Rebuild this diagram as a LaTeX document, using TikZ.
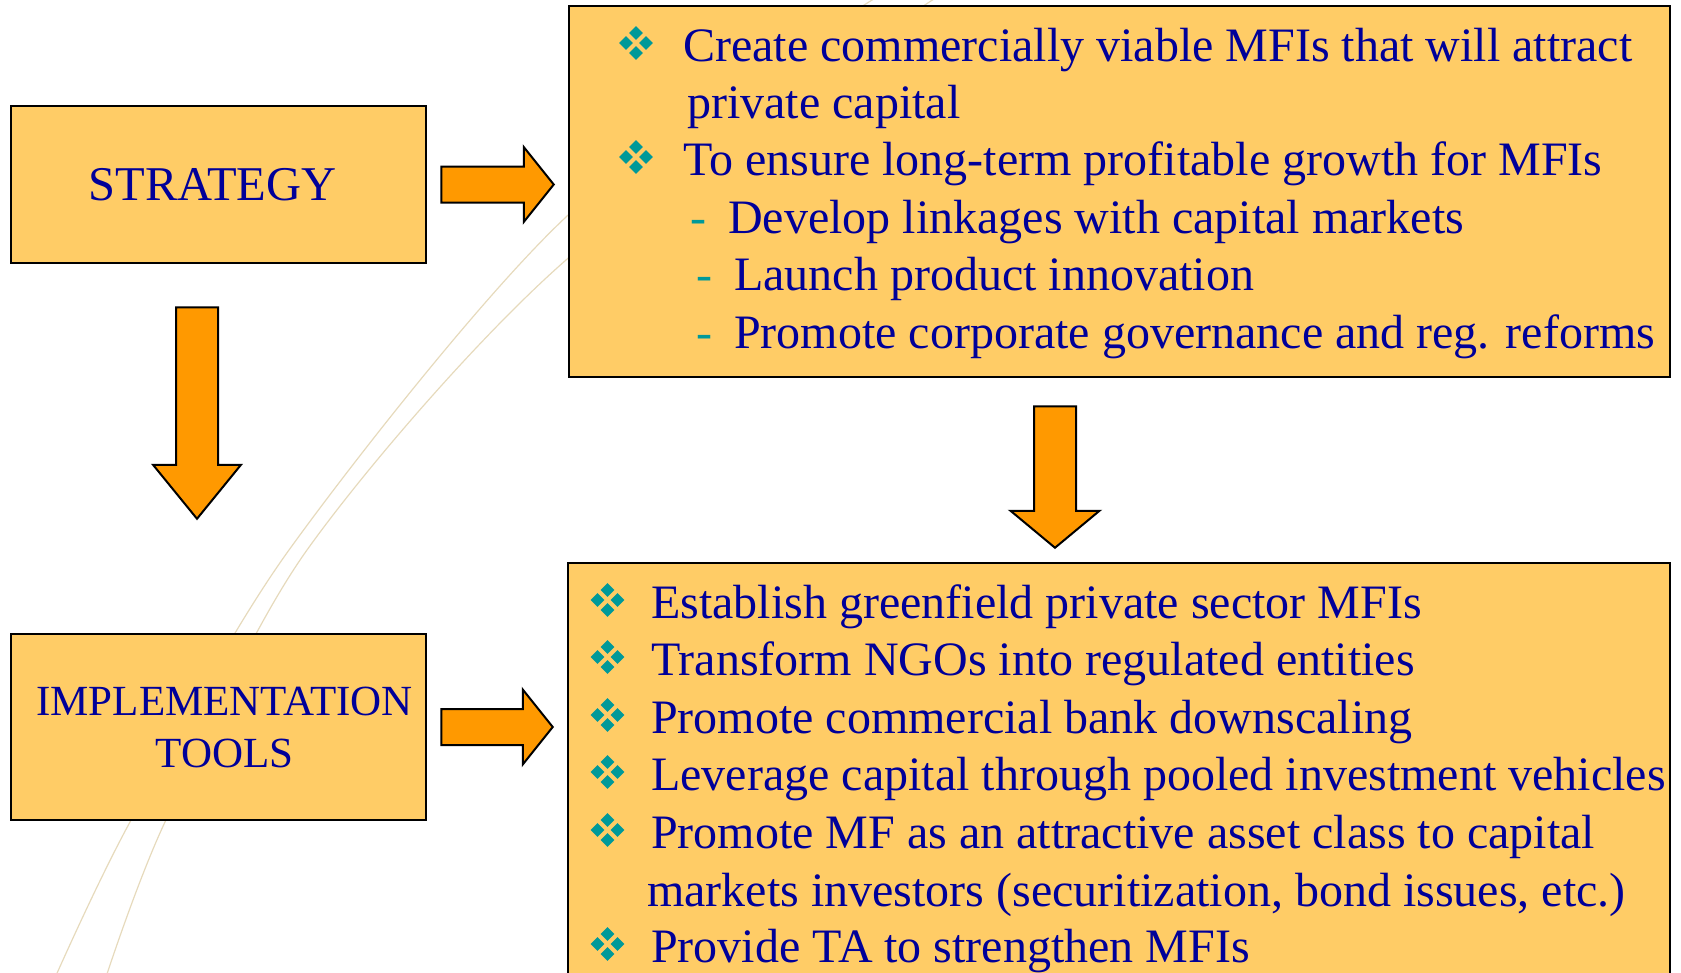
\documentclass[tikz,border=0pt]{standalone}
\usepackage{fontspec}
\setmainfont{Liberation Serif}
\usetikzlibrary{calc}
\definecolor{boxfill}{RGB}{255,204,102}
\definecolor{arrfill}{RGB}{255,153,0}
\definecolor{navy}{RGB}{0,0,153}
\definecolor{bulteal}{RGB}{0,153,153}
\definecolor{curvecol}{RGB}{230,218,188}
\tikzset{
  box/.style={draw=black, line width=2.5pt, fill=boxfill, inner sep=0pt, text=navy},
  blk/.style={draw=black, line width=2pt, fill=arrfill, line join=miter},
  txt/.style={anchor=base west, inner sep=0pt, text=navy, font=\fontsize{48}{58}\selectfont},
  dashtxt/.style={anchor=base west, inner sep=0pt, text=bulteal, font=\fontsize{48}{58}\selectfont},
  bgcurve/.style={draw=curvecol, line width=1.2pt},
}
\newcommand\mybullet[1]{%
  \foreach \dx/\dy in {0/10,0/-10,10/0,-10/0}{%
    \fill[bulteal] ($(#1)+(\dx,\dy)$) +(0,-6.8) -- +(6.8,0) -- +(0,6.8) -- +(-6.8,0) -- cycle;}}
\newcommand\harrow[2]{%
  \filldraw[blk] let \p1=(#1), \p2=(#2) in
   (\x1,\y1+18pt) -- (\x2-30pt,\y1+18pt) -- (\x2-30pt,\y1+37.5pt) -- (\x2,\y2)
   -- (\x2-30pt,\y1-37.5pt) -- (\x2-30pt,\y1-18pt) -- (\x1,\y1-18pt) -- cycle;}
\newcommand\varrow[4]{%
  \filldraw[blk] let \p1=(#1), \p2=(#2) in
   (\x1-21pt,\y1) -- (\x1+21pt,\y1) -- (\x1+21pt,\y2+#4) -- (\x1+#3,\y2+#4) -- (\x2,\y2)
   -- (\x1-#3,\y2+#4) -- (\x1-21pt,\y2+#4) -- cycle;}
\begin{document}
\begin{tikzpicture}[x=1pt,y=-1pt]
\useasboundingbox (0,0) rectangle (1681,972);
\clip (0,0) rectangle (1681,972);
% faint background curves
\draw[bgcurve] plot[smooth] coordinates {(880,-5) (566,217) (289,550) (130,822) (54,980)};
\draw[bgcurve] plot[smooth] coordinates {(940,-5) (566,260) (307,550) (165,822) (105,980)};
% boxes
\node[box, minimum width=415pt, minimum height=157pt, font=\fontsize{48.5}{56}\selectfont]
  (strategy) at (218.5,184.5) {\hspace*{-12pt}\raisebox{-3pt}{STRATEGY}};
\node[box, minimum width=415pt, minimum height=186pt, align=center, font=\fontsize{43}{52}\selectfont]
  (impl) at (218.5,727) {\hspace*{12pt}IMPLEMENTATION\\\hspace*{12pt}TOOLS};
\node[box, minimum width=1101pt, minimum height=371pt] (topbox) at (1119.5,191.5) {};
\node[box, minimum width=1102pt, minimum height=447pt] (botbox) at (1119,786.5) {};
% arrows
\coordinate (a1s) at ($(strategy.east)+(14,0)$);
\coordinate (a1t) at ($(topbox.west |- a1s)+(-14,0)$);
\coordinate (a2s) at ($(impl.east)+(14,0)$);
\coordinate (a2t) at ($(botbox.west |- a2s)+(-14,0)$);
\coordinate (a3s) at ($(strategy.south)+(-21.5,43)$);
\coordinate (a3t) at ($(impl.north)+(-21.5,-114)$);
\coordinate (a4s) at ($(topbox.south)+(-64.5,28)$);
\coordinate (a4t) at ($(a4s |- botbox.north)+(0,-14)$);
\harrow{a1s}{a1t}
\harrow{a2s}{a2t}
\varrow{a3s}{a3t}{44pt}{54pt}
\varrow{a4s}{a4t}{44.5pt}{37pt}
% top box text
\node[txt] (t1) at (683,61) {Create commercially viable MFIs that will attract};
\node[txt] (t2) at (687,118) {private capital};
\node[txt] (t3) at (683,175) {To ensure long-term profitable growth for MFIs};
\node[dashtxt] (d4) at (690,233) {-};
\node[txt] (t4) at (728,233) {Develop linkages with capital markets};
\node[dashtxt] (d5) at (696,290) {-};
\node[txt] (t5) at (734,290) {Launch product innovation};
\node[dashtxt] (d6) at (696,348) {-};
\node[txt] (t6) at (734,348) {Promote corporate governance and reg. reforms};
\coordinate (bt1) at ($(t1.base west)+(-47,-18)$);
\coordinate (bt3) at ($(t3.base west)+(-47,-18)$);
\mybullet{bt1}
\mybullet{bt3}
% bottom box text
\node[txt] (u1) at (651,618) {Establish greenfield private sector MFIs};
\node[txt] (u2) at (651,675) {Transform NGOs into regulated entities};
\node[txt] (u3) at (651,733) {Promote commercial bank downscaling};
\node[txt] (u4) at (651,790) {Leverage capital through pooled investment vehicles};
\node[txt] (u5) at (651,848) {Promote MF as an attractive asset class to capital};
\node[txt] (u6) at (647,906) {markets investors (securitization, bond issues, etc.)};
\node[txt] (u7) at (651,962) {Provide TA to strengthen MFIs};
\foreach \n in {u1,u2,u3,u4,u5,u7}{
  \coordinate (bb) at ($(\n.base west)+(-43.5,-18)$);
  \mybullet{bb}
}
\end{tikzpicture}
\end{document}
